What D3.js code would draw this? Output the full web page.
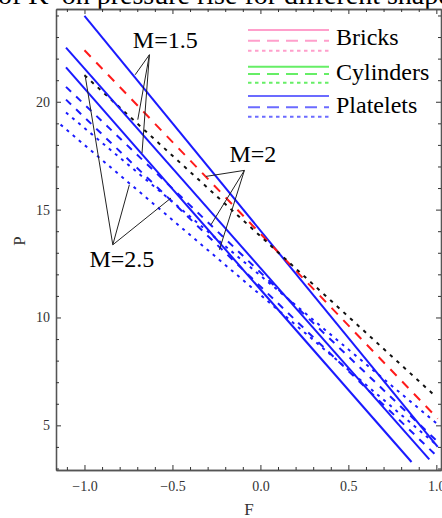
<!DOCTYPE html>
<html>
<head>
<meta charset="utf-8">
<script src="https://cdn.jsdelivr.net/npm/d3@7"></script>
<style>
body { margin: 0; background: #fff; overflow: hidden; }
svg { display: block; font-family: 'Liberation Serif', 'Times New Roman', serif; }
</style>
</head>
<body>
<svg id="chart" width="442" height="518"></svg>
<script>
// line end points, [F, P]
const m15Solid  = [[-1.0, 23.98], [1.008, 4.0]];
const m15Dashed = [[-1.0, 22.39], [1.008, 5.31]];
const m15Dotted = [[-1.0, 21.23], [1.0, 6.31]];
const m2Solid   = [[-1.105, 22.51], [0.96, 3.42]];
const m2Dashed  = [[-1.105, 20.69], [1.0, 4.3]];
const m2Dotted  = [[-1.105, 19.5], [1.0, 5.1]];
const m25Solid  = [[-1.105, 21.59], [0.859, 3.30]];
const m25Dashed = [[-1.105, 20.10], [1.0, 3.6]];
const m25Dotted = [[-1.136, 18.94], [1.0, 4.1]];

const legendNames = ['Bricks', 'Cylinders', 'Platelets'];
const legendColors = ['#ff9fcb', '#66ee66', '#6b6bff'];

const fMajor = [-1.0, -0.5, 0.0, 0.5, 1.0];
const pMajor = [5, 10, 15, 20];

// annotation: label, label anchor, arrow tip, arrow heads
const mLabels = ['M=1.5', 'M=2', 'M=2.5'];
const mLabelAt = [[-0.725, 22.49], [-0.176, 17.23], [-0.972, 12.32]];
const mTips = [[-0.631, 22.18], [-0.091, 16.82], [-0.839, 13.37]];
const mTargets = [
	[[-0.712, 21.25], [-0.697, 19.17], [-0.673, 17.62]],
	[[-0.309, 16.54], [-0.281, 14.30], [-0.233, 13.14]],
	[[-0.997, 21.25], [-0.745, 16.15], [-0.508, 15.54]],
];

const series = [
	{d: m15Solid, color: '#1a1aff', dash: null},
	{d: m15Dashed, color: '#ff1a1a', dash: '9,8'},
	{d: m15Dotted, color: '#111', dash: '3.5,5.5'},
	{d: m2Solid, color: '#1a1aff', dash: null},
	{d: m2Dashed, color: '#1a1aff', dash: '7,7'},
	{d: m2Dotted, color: '#1a1aff', dash: '3,5'},
	{d: m25Solid, color: '#1a1aff', dash: null},
	{d: m25Dashed, color: '#1a1aff', dash: '7,7'},
	{d: m25Dotted, color: '#1a1aff', dash: '3,5'},
];

const L = 56, R = 441, T = 9, B = 470;
const x = d3.scaleLinear().domain([-1.1619, 1.0265]).range([L, R]);
const y = d3.scaleLinear().domain([2.93, 24.3]).range([B, T]);

const svg = d3.select('#chart');

// cut-off caption at the very top
svg.append('text')
	.attr('x', -2).attr('y', 4)
	.attr('font-size', 28)
	.text('of K\u2032 on pressure rise for different shapes');

svg.append('clipPath').attr('id', 'clip')
	.append('rect').attr('x', L).attr('y', T).attr('width', R - L).attr('height', B - T);

const line = d3.line().x(d => x(d[0])).y(d => y(d[1]));

svg.append('g').attr('clip-path', 'url(#clip)')
	.selectAll('path')
	.data(series)
	.join('path')
	.attr('d', s => line(s.d))
	.attr('fill', 'none')
	.attr('stroke', s => s.color)
	.attr('stroke-width', 2)
	.attr('stroke-dasharray', s => s.dash);

// frame + ticks
const minorF = d3.range(-11, 11).map(i => i / 10).filter(v => !fMajor.some(m => Math.abs(m - v) < 1e-9));
const minorP = d3.range(3, 25).filter(v => !pMajor.includes(v));
const fmt = v => (v < 0 ? '\u2212' : '') + Math.abs(v).toFixed(1);

const axes = [
	[d3.axisBottom(x).tickValues(fMajor).tickFormat(fmt), `translate(0,${B})`],
	[d3.axisBottom(x).tickValues(minorF).tickFormat(''), `translate(0,${B})`, true],
	[d3.axisTop(x).tickValues(fMajor).tickFormat(''), `translate(0,${T})`],
	[d3.axisTop(x).tickValues(minorF).tickFormat(''), `translate(0,${T})`, true],
	[d3.axisLeft(y).tickValues(pMajor).tickFormat(d3.format('d')), `translate(${L},0)`],
	[d3.axisLeft(y).tickValues(minorP).tickFormat(''), `translate(${L},0)`, true],
	[d3.axisRight(y).tickValues(pMajor).tickFormat(''), `translate(${R},0)`],
	[d3.axisRight(y).tickValues(minorP).tickFormat(''), `translate(${R},0)`, true],
];
axes.forEach(([ax, tr, minor]) => {
	const g = svg.append('g').attr('transform', tr)
		.call(ax.tickSize(minor ? -3 : -5).tickSizeOuter(0).tickPadding(ax === axes[0][0] ? 11 : 6));
	g.select('.domain').attr('stroke', '#555').attr('stroke-width', 1.3);
	g.selectAll('.tick line').attr('stroke', '#333');
	g.selectAll('text').attr('font-size', 14).attr('fill', '#333')
		.attr('font-family', "'Liberation Serif', serif");
});

svg.append('text').attr('x', 249).attr('y', 515)
	.attr('text-anchor', 'middle').attr('font-size', 17).attr('fill', '#333').text('F');
svg.append('text').attr('transform', 'translate(25,241) rotate(-90)')
	.attr('text-anchor', 'middle').attr('font-size', 17).attr('fill', '#333').text('P');

// annotations
const ann = svg.append('g');
mLabels.forEach((lab, i) => {
	mTargets[i].forEach(t => {
		ann.append('line')
			.attr('x1', x(mTips[i][0])).attr('y1', y(mTips[i][1]))
			.attr('x2', x(t[0])).attr('y2', y(t[1]))
			.attr('stroke', '#222').attr('stroke-width', 1);
	});
	ann.append('text')
		.attr('x', x(mLabelAt[i][0])).attr('y', y(mLabelAt[i][1]))
		.attr('font-size', 24).text(lab);
});

// legend
const legY = [[30, 40.7, 50.7], [66.7, 74, 82.7], [96, 107.3, 116.7]];
const legText = [45, 80, 113.3];
const legDash = [null, '12,7', '3.5,3.5'];
const leg = svg.append('g');
legendNames.forEach((n, i) => {
	legY[i].forEach((yy, k) => {
		leg.append('line')
			.attr('x1', 248).attr('x2', 329).attr('y1', yy).attr('y2', yy)
			.attr('stroke', legendColors[i]).attr('stroke-width', 2)
			.attr('stroke-dasharray', legDash[k]);
	});
	leg.append('text').attr('x', 336).attr('y', legText[i]).attr('font-size', 24).text(n);
});
</script>
</body>
</html>
